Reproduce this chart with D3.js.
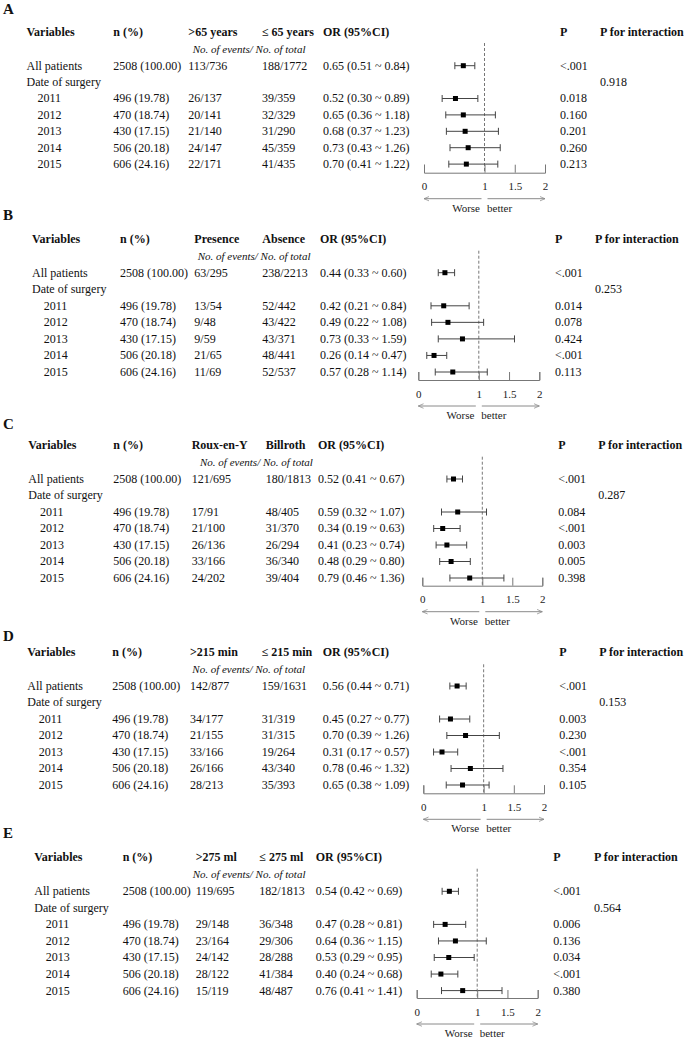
<!DOCTYPE html>
<html>
<head>
<meta charset="utf-8">
<script src="https://cdn.jsdelivr.net/npm/d3@7"></script>
<style>
  body { margin: 0; background: #fff; }
  svg { display: block; font-family: "Liberation Serif", "Times New Roman", serif; }
</style>
</head>
<body>
<div id="chart"></div>
<script>
// ---- data ----
const panelLetters = ['A', 'B', 'C', 'D', 'E'];
const groupLabels = [
  ['>65 years', '\u2264 65 years'],
  ['Presence', 'Absence'],
  ['Roux-en-Y', 'Billroth'],
  ['>215 min', '\u2264 215 min'],
  ['>275 ml', '\u2264 275 ml']
];
const rowLabels = ['All patients', 'Date of surgery', '2011', '2012', '2013', '2014', '2015'];
const nPercent = ['2508 (100.00)', '496 (19.78)', '470 (18.74)', '430 (17.15)', '506 (20.18)', '606 (24.16)'];

// rows: all patients, 2011 ... 2015
const eventsGroup1 = [
  ['113/736', '26/137', '20/141', '21/140', '24/147', '22/171'],
  ['63/295', '13/54', '9/48', '9/59', '21/65', '11/69'],
  ['121/695', '17/91', '21/100', '26/136', '33/166', '24/202'],
  ['142/877', '34/177', '21/155', '33/166', '26/166', '28/213'],
  ['119/695', '29/148', '23/164', '24/142', '28/122', '15/119']
];
const eventsGroup2 = [
  ['188/1772', '39/359', '32/329', '31/290', '45/359', '41/435'],
  ['238/2213', '52/442', '43/422', '43/371', '48/441', '52/537'],
  ['180/1813', '48/405', '31/370', '26/294', '36/340', '39/404'],
  ['159/1631', '31/319', '31/315', '19/264', '43/340', '35/393'],
  ['182/1813', '36/348', '29/306', '28/288', '41/384', '48/487']
];
const orValues = [
  [0.65, 0.52, 0.65, 0.68, 0.73, 0.70],
  [0.44, 0.42, 0.49, 0.73, 0.26, 0.57],
  [0.52, 0.59, 0.34, 0.41, 0.48, 0.79],
  [0.56, 0.45, 0.70, 0.31, 0.78, 0.65],
  [0.54, 0.47, 0.64, 0.53, 0.40, 0.76]
];
const ciLower = [
  [0.51, 0.30, 0.36, 0.37, 0.43, 0.41],
  [0.33, 0.21, 0.22, 0.33, 0.14, 0.28],
  [0.41, 0.32, 0.19, 0.23, 0.29, 0.46],
  [0.44, 0.27, 0.39, 0.17, 0.46, 0.38],
  [0.42, 0.28, 0.36, 0.29, 0.24, 0.41]
];
const ciUpper = [
  [0.84, 0.89, 1.18, 1.23, 1.26, 1.22],
  [0.60, 0.84, 1.08, 1.59, 0.47, 1.14],
  [0.67, 1.07, 0.63, 0.74, 0.80, 1.36],
  [0.71, 0.77, 1.26, 0.57, 1.32, 1.09],
  [0.69, 0.81, 1.15, 0.95, 0.68, 1.41]
];
const pValues = [
  ['<.001', '0.018', '0.160', '0.201', '0.260', '0.213'],
  ['<.001', '0.014', '0.078', '0.424', '<.001', '0.113'],
  ['<.001', '0.084', '<.001', '0.003', '0.005', '0.398'],
  ['<.001', '0.003', '0.230', '<.001', '0.354', '0.105'],
  ['<.001', '0.006', '0.136', '0.034', '<.001', '0.380']
];
const pInteraction = ['0.918', '0.253', '0.287', '0.153', '0.564'];
const axisTicks = [0, 1, 1.5, 2];

// ---- layout (each panel was a separate image, so offsets differ a little) ----
const layout = [
  { label: 9,   header: 32,  sub: 49,  row0: 65.7,  step: 16.4,  axis: 172.7, dashTop: 43,
    xVar: 26.5, xYear: 37.5, xN: 113.3, xG1: 188.3, xG2: 262,   xOr: 323,   xSub: 192.7, xP: 560,   xPi: 600,   range: [424, 545] },
  { label: 215, header: 239.3, sub: 256, row0: 272.7, step: 16.55, axis: 380, dashTop: 250.7,
    xVar: 32,   xYear: 43.7, xN: 120,   xG1: 194.3, xG2: 262.3, xOr: 320,   xSub: 197.7, xP: 555,   xPi: 595,   range: [418.3, 539.3] },
  { label: 424, header: 445, sub: 462.3, row0: 479,   step: 16.5,  axis: 585.7, dashTop: 456.7,
    xVar: 28.3, xYear: 40,   xN: 113.3, xG1: 191.7, xG2: 265.7, xOr: 318,   xSub: 200,   xP: 558.3, xPi: 598.3, range: [422.3, 542.3] },
  { label: 636, header: 652.3, sub: 669, row0: 686,   step: 16.5,  axis: 793.3, dashTop: 664.3,
    xVar: 27.3, xYear: 38.7, xN: 112.3, xG1: 190,   xG2: 261.7, xOr: 322.7, xSub: 192.3, xP: 559.3, xPi: 599.3, range: [423.3, 544] },
  { label: 833, header: 857.3, sub: 874.7, row0: 891.3, step: 16.55, axis: 998, dashTop: 868.7,
    xVar: 34.3, xYear: 45.7, xN: 122.7, xG1: 195.7, xG2: 259.3, xOr: 315.7, xSub: 192.7, xP: 553.3, xPi: 594, range: [416.7, 537.7] }
];

const width = 685, height = 1038;
const svg = d3.select('#chart').append('svg')
  .attr('width', width)
  .attr('height', height);

const defs = svg.append('defs');
['start', 'end'].forEach(kind => {
  defs.append('marker')
    .attr('id', 'arrow-' + kind)
    .attr('viewBox', '0 -4 8 8')
    .attr('refX', kind === 'end' ? 7 : 1)
    .attr('refY', 0)
    .attr('markerWidth', 6)
    .attr('markerHeight', 6)
    .attr('markerUnits', 'userSpaceOnUse')
    .attr('orient', 'auto-start-reverse')
    .append('path')
    .attr('d', 'M0,-3L7,0L0,3')
    .attr('fill', 'none')
    .attr('stroke', '#8a8a8a')
    .attr('stroke-width', 1);
});

// helper: text placed by its visual centre
function label(g, x, y, txt, opts = {}) {
  const size = opts.size || 12;
  return g.append('text')
    .attr('x', x)
    .attr('y', y + size * 0.33)
    .attr('text-anchor', opts.anchor || 'start')
    .style('font-size', size + 'px')
    .style('font-weight', opts.bold ? 'bold' : 'normal')
    .style('font-style', opts.italic ? 'italic' : 'normal')
    .attr('fill', opts.fill || '#111')
    .text(txt);
}

panelLetters.forEach((letter, i) => {
  const L = layout[i];
  const g = svg.append('g').attr('class', 'panel panel-' + letter);
  const x = d3.scaleLinear().domain([0, 2]).range(L.range);
  const rowY = k => L.row0 + k * L.step;

  label(g, 3, L.label, letter, { size: 15, bold: true });

  // header
  label(g, L.xVar, L.header, 'Variables', { bold: true });
  label(g, L.xN, L.header, 'n (%)', { bold: true });
  label(g, L.xG1, L.header, groupLabels[i][0], { bold: true });
  label(g, L.xG2, L.header, groupLabels[i][1], { bold: true });
  label(g, L.xOr, L.header, 'OR (95%CI)', { bold: true });
  label(g, L.xP, L.header, 'P', { bold: true });
  label(g, L.xPi, L.header, 'P for interaction', { bold: true });
  label(g, L.xSub, L.sub, 'No. of events/ No. of total', { italic: true, size: 11 });

  // row labels
  rowLabels.forEach((r, k) => {
    label(g, k < 2 ? L.xVar : L.xYear, rowY(k), r);
  });
  label(g, L.xPi, rowY(1), pInteraction[i]);

  // data rows (skip the "Date of surgery" heading row)
  const rows = orValues[i].map((or, j) => ({
    k: j === 0 ? 0 : j + 1,
    n: nPercent[j],
    e1: eventsGroup1[i][j],
    e2: eventsGroup2[i][j],
    or: or,
    lo: ciLower[i][j],
    hi: ciUpper[i][j],
    p: pValues[i][j]
  }));

  rows.forEach(d => {
    const y = rowY(d.k);
    label(g, L.xN, y, d.n);
    label(g, L.xG1, y, d.e1);
    label(g, L.xG2, y, d.e2);
    label(g, L.xOr, y, `${d.or.toFixed(2)} (${d.lo.toFixed(2)} ~ ${d.hi.toFixed(2)})`);
    label(g, L.xP, y, d.p);
  });

  // reference line at OR = 1
  g.append('line')
    .attr('x1', x(1)).attr('x2', x(1))
    .attr('y1', L.dashTop).attr('y2', L.axis)
    .attr('stroke', '#777')
    .attr('stroke-width', 1)
    .attr('stroke-dasharray', '3,2');

  // confidence intervals
  const ci = g.selectAll('.ci')
    .data(rows)
    .enter().append('g')
    .attr('class', 'ci')
    .attr('transform', d => `translate(0,${rowY(d.k)})`);

  ci.append('line')
    .attr('x1', d => x(d.lo)).attr('x2', d => x(d.hi))
    .attr('stroke', '#444').attr('stroke-width', 1);
  ci.append('line')
    .attr('x1', d => x(d.lo)).attr('x2', d => x(d.lo))
    .attr('y1', -3.5).attr('y2', 3.5)
    .attr('stroke', '#444').attr('stroke-width', 1);
  ci.append('line')
    .attr('x1', d => x(d.hi)).attr('x2', d => x(d.hi))
    .attr('y1', -3.5).attr('y2', 3.5)
    .attr('stroke', '#444').attr('stroke-width', 1);
  ci.append('rect')
    .attr('x', d => x(d.or) - 2.5)
    .attr('y', -2.5)
    .attr('width', 5)
    .attr('height', 5)
    .attr('fill', '#000');

  // axis with ticks pointing up
  const axis = g.append('g')
    .attr('transform', `translate(0,${L.axis})`)
    .call(d3.axisBottom(x)
      .tickValues(axisTicks)
      .tickSize(-8)
      .tickPadding(10)
      .tickFormat(d => String(d)));
  axis.selectAll('path, line').attr('stroke', '#777');
  axis.selectAll('text')
    .attr('fill', '#222')
    .style('font-size', '11px')
    .style('font-family', '"Liberation Serif", serif');

  // direction arrows
  const ay = L.axis + 26;
  g.append('line')
    .attr('x1', x(1) - 3).attr('x2', x(0))
    .attr('y1', ay).attr('y2', ay)
    .attr('stroke', '#8a8a8a').attr('stroke-width', 1)
    .attr('marker-end', 'url(#arrow-end)');
  g.append('line')
    .attr('x1', x(1) + 3).attr('x2', x(2))
    .attr('y1', ay).attr('y2', ay)
    .attr('stroke', '#8a8a8a').attr('stroke-width', 1)
    .attr('marker-end', 'url(#arrow-end)');
  label(g, x(1) - 4.5, L.axis + 35.5, 'Worse', { size: 11, anchor: 'end', fill: '#222' });
  label(g, x(1) + 2.5, L.axis + 35.5, 'better', { size: 11, fill: '#222' });
});
</script>
</body>
</html>
